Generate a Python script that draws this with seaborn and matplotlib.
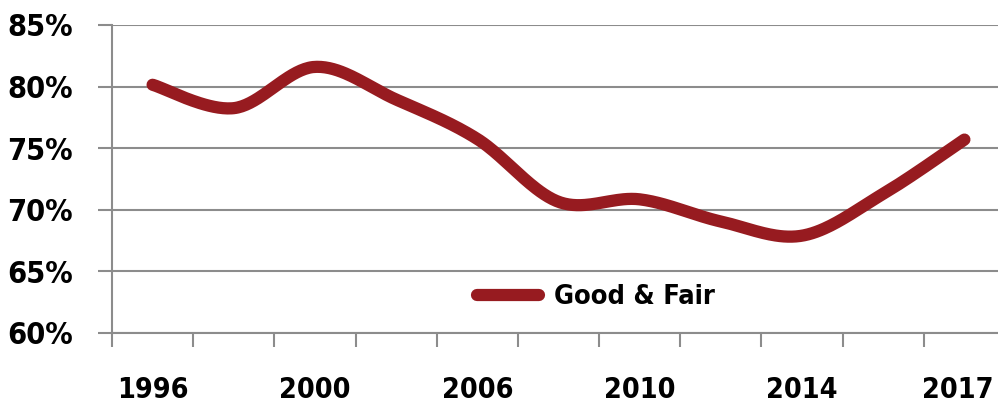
import os
import numpy as np
import pandas as pd
import matplotlib
matplotlib.use("Agg")
import matplotlib.pyplot as plt
from matplotlib import font_manager as fm
from matplotlib.lines import Line2D
from matplotlib.transforms import ScaledTranslation
import seaborn as sns

# ---- data ----
categories = ["1996", "1998", "2000", "2003", "2006", "2008",
              "2010", "2012", "2014", "2016", "2017"]
shown_labels = ["1996", "", "2000", "", "2006", "",
                "2010", "", "2014", "", "2017"]
good_fair = [80.15, 78.25, 81.6, 78.95, 75.75, 70.65,
             70.85, 69.05, 67.9, 71.3, 75.7]
series_name = "Good & Fair"
yticks = [60, 65, 70, 75, 80, 85]

sns.set_theme(style="white")
plt.rcParams["font.family"] = ["DejaVu Sans"]
plt.rcParams["text.color"] = "black"

# find a condensed bold font file
files = fm.findSystemFonts() + [f.fname for f in fm.fontManager.ttflist]
prefs = ["liberationsansnarrow-bold.", "dejavusanscondensed-bold.",
         "robotocondensed-bold.", "opensanscondensed-bold.",
         "opensans_condensed-bold.", "notosans-condensedbold.",
         "notosanscondensed-bold."]
chosen = None
low = {os.path.basename(f).lower(): f for f in files}
for p in prefs:
    for k, v in low.items():
        if k.startswith(p):
            chosen = v
            break
    if chosen:
        break
if chosen is None:
    for k, v in low.items():
        if ("condensed" in k or "narrow" in k) and "bold" in k and "italic" not in k and "oblique" not in k:
            chosen = v
            break

def fp(size):
    if chosen:
        return fm.FontProperties(fname=chosen, size=size)
    return fm.FontProperties(family="DejaVu Sans", weight="bold", stretch="condensed", size=size)

W, H = 998, 412
fig = plt.figure(figsize=(W / 100, H / 100), dpi=100)
ax = fig.add_axes([112 / W, (H - 333) / H, (1005 - 112) / W, (333 - 25) / H])

# smooth (Catmull-Rom / Bezier, like spreadsheet smoothed lines)
def smooth(xs, ys, n=40):
    xs = np.asarray(xs, float); ys = np.asarray(ys, float)
    P = np.column_stack([xs, ys])
    Pp = np.vstack([P[0], P, P[-1]])
    out = []
    for i in range(len(P) - 1):
        p0, p1, p2, p3 = Pp[i], Pp[i + 1], Pp[i + 2], Pp[i + 3]
        c1 = p1 + (p2 - p0) / 6
        c2 = p2 - (p3 - p1) / 6
        t = np.linspace(0, 1, n, endpoint=(i == len(P) - 2))[:, None]
        b = (1 - t) ** 3 * p1 + 3 * (1 - t) ** 2 * t * c1 + 3 * (1 - t) * t ** 2 * c2 + t ** 3 * p2
        out.append(b)
    out = np.vstack(out)
    return out[:, 0], out[:, 1]

xpos = np.arange(len(categories))
sx, sy = smooth(xpos, good_fair)
df = pd.DataFrame({"x": sx, "y": sy})
color = "#971b20"
sns.lineplot(data=df, x="x", y="y", ax=ax, color=color, lw=8.8,
             sort=False, estimator=None, legend=False,
             solid_capstyle="round")

ax.set_xlim(-0.5, len(categories) - 0.5)
ax.set_ylim(60, 85)
ax.set_yticks(yticks)
ax.set_yticklabels([f"{v}%" for v in yticks])
ax.yaxis.grid(True, color="#8c8c8c", lw=1.5)
ax.set_axisbelow(True)

ax.set_xticks(xpos)
ax.set_xticklabels(shown_labels)
ax.set_xticks(np.arange(-0.5, len(categories)), minor=True)
ax.tick_params(axis="x", which="major", bottom=True, length=0, pad=31)
ax.tick_params(axis="x", which="minor", bottom=True, length=10, width=1.5,
               color="#8c8c8c", direction="out")
ax.tick_params(axis="y", which="major", left=True, length=10, width=1.5,
               color="#8c8c8c", direction="out", pad=18)
for s in ["top", "right"]:
    ax.spines[s].set_visible(False)
for s in ["left", "bottom"]:
    ax.spines[s].set_color("#8c8c8c")
    ax.spines[s].set_linewidth(1.5)
ax.set_xlabel("")
ax.set_ylabel("")
xl = ax.get_xticklabels()
for lab in xl:
    lab.set_fontproperties(fp(20.5))
    lab.set_color("black")
xl[-1].set_transform(xl[-1].get_transform() + ScaledTranslation(-7 / 100, 0, fig.dpi_scale_trans))
for lab in ax.get_yticklabels():
    lab.set_fontproperties(fp(22))
    lab.set_color("black")

handle = Line2D([], [], color=color, lw=8.8, solid_capstyle="round")
leg = ax.legend([handle], [series_name], loc="center",
                bbox_to_anchor=(596 / W, (H - 297) / H), bbox_transform=fig.transFigure,
                frameon=False, handlelength=2.3, handletextpad=0.55,
                prop=fp(19.5))
for t in leg.get_texts():
    t.set_color("black")

fig.savefig("out.png", dpi=100)
